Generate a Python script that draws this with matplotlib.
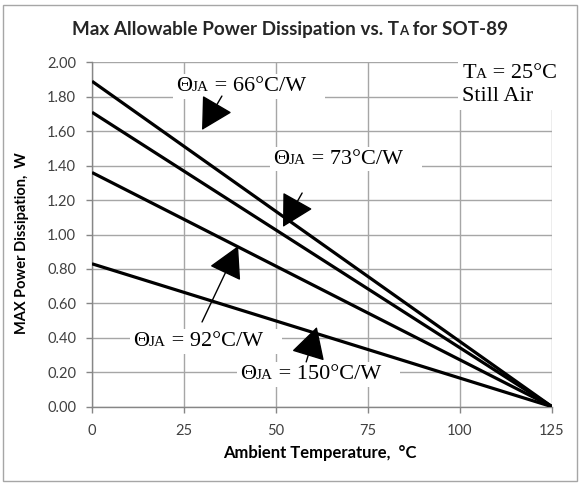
import matplotlib
matplotlib.use("Agg")
import matplotlib.pyplot as plt
from matplotlib.patches import Rectangle
from matplotlib.offsetbox import TextArea, HPacker, VPacker, AnnotationBbox

# ---------------- data ----------------
temps = [0, 125]
theta_ja = ["66", "73", "92", "150"]
power_at_0 = [1.89, 1.71, 1.36, 0.83]
power_at_125 = [0.0, 0.0, 0.0, 0.0]
x_ticks = [0, 25, 50, 75, 100, 125]
y_ticks = [0.0, 0.2, 0.4, 0.6, 0.8, 1.0, 1.2, 1.4, 1.6, 1.8, 2.0]

# label anchor (left, middle) in data coords and arrows (tail -> tip)
label_pos = [(22.8, 1.858), (49.2, 1.438), (11.1, 0.380), (40.2, 0.188)]
arrow_tail = [(35.3, 1.804), (57.1, 1.241), (29.9, 0.492), (58.2, 0.260)]
arrow_tip = [(29.9, 1.607), (51.9, 1.044), (39.7, 0.933), (61.1, 0.463)]

SANS = "Lato"
SERIF = "Liberation Serif"
BIG = 16
SMALL = 11

fig = plt.figure(figsize=(5.81, 4.83), dpi=100)
fig.patch.set_facecolor("white")
ax = fig.add_axes([92 / 581, 1 - 406.7 / 483, 460 / 581, 344.4 / 483])

for p0, p1 in zip(power_at_0, power_at_125):
    ax.plot(temps, [p0, p1], color="black", lw=2.3, solid_capstyle="butt", zorder=3)

ax.set_xlim(0, 125)
ax.set_ylim(0, 2.0)
ax.set_xticks(x_ticks)
ax.set_xticklabels([str(t) for t in x_ticks])
ax.set_yticks(y_ticks)
ax.set_yticklabels([f"{v:.2f}" for v in y_ticks])
ax.grid(True, color="#a6a6a6", lw=1.0, zorder=0)
for s in ["top", "right"]:
    ax.spines[s].set_visible(False)
for s in ["left", "bottom"]:
    ax.spines[s].set_color("#868686")
    ax.spines[s].set_linewidth(1.0)
ax.tick_params(axis="both", direction="out", length=4.5, width=1.0, color="#868686",
               labelsize=10.5, labelcolor="#404040")
for lab in ax.get_xticklabels() + ax.get_yticklabels():
    lab.set_family(SANS)
ax.tick_params(axis="y", pad=7)
ax.tick_params(axis="x", pad=8)


def serif_area(t, size):
    return TextArea(t, textprops=dict(fontsize=size, family=SERIF, color="black"))


for val, pos, tail, tip in zip(theta_ja, label_pos, arrow_tail, arrow_tip):
    box = HPacker(children=[serif_area("\u0398", BIG), serif_area("JA", SMALL),
                            serif_area(f" = {val}\u00b0C/W   ", BIG)],
                  align="baseline", pad=0, sep=0)
    ab = AnnotationBbox(box, pos, xycoords="data", box_alignment=(0, 0.5),
                        frameon=True, pad=0.2,
                        bboxprops=dict(fc="white", ec="none"), zorder=4)
    ax.add_artist(ab)
    ax.annotate("", xy=tip, xytext=tail, xycoords="data", textcoords="data",
                arrowprops=dict(arrowstyle="-|>,head_length=2.0,head_width=1.1",
                                mutation_scale=10, color="black", lw=1.0,
                                shrinkA=0, shrinkB=0), zorder=5)

ta_line = HPacker(children=[serif_area("T", BIG), serif_area("A", SMALL),
                            serif_area(" = 25\u00b0C", BIG)],
                  align="baseline", pad=0, sep=0)
still = HPacker(children=[serif_area("Still Air", BIG)], align="baseline", pad=0, sep=0)
ta_box = VPacker(children=[ta_line, still], align="left", pad=0, sep=3)
ab = AnnotationBbox(ta_box, (100.6, 1.99), xycoords="data", box_alignment=(0, 1),
                    frameon=True, pad=0.3, annotation_clip=False,
                    bboxprops=dict(fc="white", ec="none"), zorder=4)
ax.add_artist(ab)


def title_area(t, size):
    return TextArea(t, textprops=dict(fontsize=size, fontweight="bold", family=SANS,
                                      color="#262626"))


title = HPacker(children=[title_area("Max Allowable Power Dissipation vs. T", 13.6),
                          title_area("A", 9.5), title_area(" for SOT-89", 13.6)],
                align="baseline", pad=0, sep=0)
fig.add_artist(AnnotationBbox(title, (0.499, 0.938), xycoords="figure fraction",
                              box_alignment=(0.5, 0.5), frameon=False))

fig.text(0.551, 0.062, "Ambient Temperature,  \u00b0C", ha="center", va="center",
         fontsize=12, fontweight="bold", family=SANS, color="black")
fig.text(0.038, 0.497, "MAX Power Dissipation,  W", ha="center", va="center",
         rotation=90, fontsize=10.5, fontweight="bold", family=SANS, color="black")

fig.patches.append(Rectangle((3 / 581, 2 / 483), 574 / 581, 476 / 483,
                             transform=fig.transFigure, fill=False,
                             ec="#a6a6a6", lw=1.0))

fig.savefig("out.png", dpi=100, facecolor="white")
